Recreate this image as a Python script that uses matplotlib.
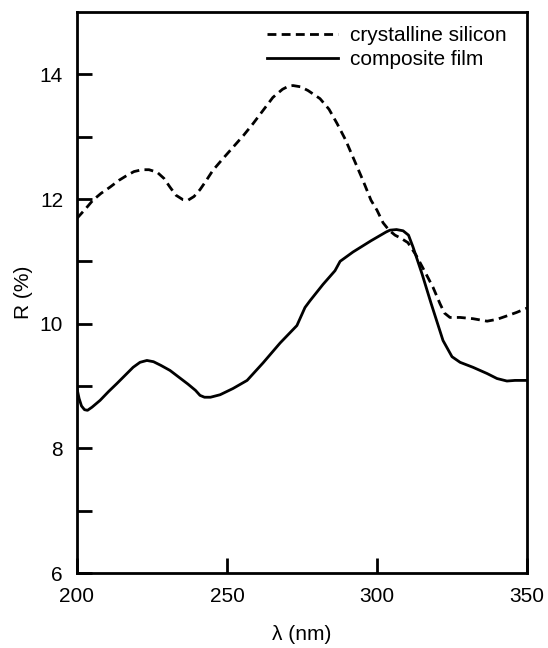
import numpy as np
import matplotlib
matplotlib.use("Agg")
import matplotlib.pyplot as plt

plt.rcParams['font.family'] = ['Liberation Sans', 'DejaVu Sans']

# crystalline silicon (dashed)
si_wl = [200, 203, 205.3, 208, 211, 214, 216.7, 219, 221.7, 224, 226.7, 229, 231, 233,
         235.3, 237, 239, 241, 243, 245.3, 248.5, 252, 255.5, 258.7, 262, 265.3, 268.5,
         270.5, 272, 274.5, 277, 281, 284, 286.7, 289.5, 292, 295.3, 298, 300, 302, 304,
         306, 308, 310.3, 313, 316, 318.7, 321, 322.5, 324.3, 327.7, 332, 336.7, 340,
         343, 346.5, 350]
si_r = [11.69, 11.85, 11.98, 12.09, 12.19, 12.30, 12.38, 12.44, 12.47, 12.47, 12.43, 12.33,
        12.19, 12.06, 11.99, 11.98, 12.04, 12.15, 12.29, 12.46, 12.64, 12.83, 13.02, 13.21,
        13.42, 13.63, 13.76, 13.81, 13.82, 13.80, 13.74, 13.61, 13.44, 13.21, 12.95, 12.67,
        12.30, 11.98, 11.82, 11.62, 11.50, 11.42, 11.37, 11.30, 11.10, 10.83, 10.58, 10.32,
        10.17, 10.10, 10.10, 10.08, 10.04, 10.07, 10.12, 10.18, 10.25]

# composite film (solid)
film_wl = [200, 200.7, 201.5, 202.5, 203.5, 205, 207.7, 210.5, 213.3, 216, 218.7, 221,
           223.3, 225.5, 228, 231, 234, 237, 239.5, 241, 242.5, 244.5, 247.7, 252, 256.7,
           262, 267.7, 273.3, 276, 277.7, 282, 286, 287.7, 292, 298, 303, 304.3, 306.5,
           308.7, 310.5, 312, 315, 318, 322, 325, 327.7, 332, 336.7, 340, 343.3, 346, 350]
film_r = [8.96, 8.80, 8.68, 8.62, 8.61, 8.66, 8.77, 8.91, 9.04, 9.17, 9.30, 9.38, 9.41,
          9.39, 9.33, 9.25, 9.14, 9.03, 8.93, 8.85, 8.82, 8.82, 8.86, 8.96, 9.09, 9.37,
          9.69, 9.97, 10.26, 10.37, 10.63, 10.85, 11.0, 11.15, 11.33, 11.47, 11.50, 11.51,
          11.49, 11.42, 11.23, 10.80, 10.33, 9.73, 9.47, 9.38, 9.30, 9.20, 9.12, 9.08,
          9.09, 9.09]

x_ticks = [200, 250, 300, 350]
y_ticks = [6, 8, 10, 12, 14]

fig = plt.figure(figsize=(5.48, 6.48), dpi=100)
ax = fig.add_axes([0.1405, 0.1157, 0.8212, 0.8658])

ax.plot(si_wl, si_r, color='black', lw=2.0, ls=(0, (3.2, 1.9)), label='crystalline silicon')
ax.plot(film_wl, film_r, color='black', lw=2.0, ls='-', label='composite film')

ax.set_xlim(200, 350)
ax.set_ylim(6, 15)
ax.set_xticks(x_ticks)
ax.set_yticks(y_ticks)
ax.set_yticks([7, 9, 11, 13], minor=True)

for s in ax.spines.values():
    s.set_linewidth(2.0)

ax.tick_params(axis='both', which='both', direction='in', labelsize=15, width=2.0,
               pad=10, top=False, right=False)
ax.tick_params(axis='both', which='major', length=11)
ax.tick_params(axis='y', which='minor', length=11)

ax.set_xlabel('λ (nm)', fontsize=15, labelpad=14)
ax.set_ylabel('R (%)', fontsize=15, labelpad=5)

ax.legend(loc='upper right', bbox_to_anchor=(1.0, 1.012), frameon=False, fontsize=15,
          handlelength=3.4, handletextpad=0.55, labelspacing=0.25, borderaxespad=0.6)

fig.savefig('out.png', dpi=100)
